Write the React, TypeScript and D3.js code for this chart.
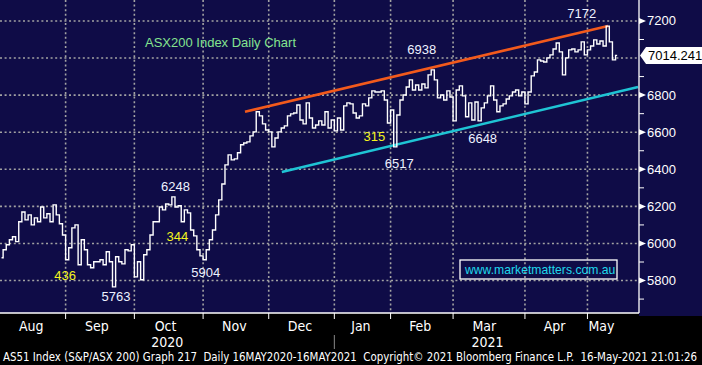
import React from 'react';
import * as d3 from 'd3';

// ASX200 daily closes, 3 Aug 2020 .. 14 May 2021
const closes = [
  5923, 5966, 5993, 6020, 6036, 6010, 6117, 6170, 6127, 6154,
  6100, 6138, 6117, 6197, 6138, 6160, 6117, 6208, 6154, 6106,
  6046, 5912, 5977, 6084, 6100, 5885, 6020, 5966, 5885, 5869,
  5901, 5901, 5912, 5885, 5955, 5901, 5766, 5928, 5901, 5890,
  5966, 5960, 5993, 5820, 5901, 5804, 5939, 5966, 6046, 6117,
  6117, 6197, 6181, 6213, 6208, 6251, 6197, 6203, 6117, 6181,
  6165, 6073, 6041, 5966, 5933, 5912, 5966, 6020, 6073, 6154,
  6235, 6321, 6424, 6478, 6451, 6456, 6489, 6532, 6542, 6548,
  6580, 6602, 6710, 6688, 6645, 6612, 6602, 6521, 6569, 6602,
  6623, 6634, 6688, 6699, 6704, 6747, 6666, 6645, 6758, 6677,
  6623, 6639, 6661, 6639, 6710, 6623, 6666, 6607, 6677, 6612,
  6742, 6758, 6753, 6704, 6677, 6688, 6753, 6742, 6785, 6823,
  6817, 6817, 6823, 6774, 6650, 6720, 6521, 6693, 6774, 6801,
  6844, 6882, 6828, 6855, 6828, 6860, 6839, 6909, 6936, 6882,
  6785, 6801, 6774, 6823, 6790, 6661, 6828, 6850, 6796, 6683,
  6758, 6666, 6763, 6661, 6731, 6758, 6796, 6850, 6774, 6710,
  6742, 6753, 6779, 6796, 6817, 6828, 6796, 6817, 6753, 6817,
  6904, 6925, 6990, 6984, 6979, 7001, 7017, 7049, 7081, 7033,
  6909, 7001, 7044, 7049, 7033, 7044, 7087, 7017, 7044, 7065,
  7098, 7076, 7092, 7065, 7172, 7087, 6990, 7014.241,
];

const monthNames = ['Aug', 'Sep', 'Oct', 'Nov', 'Dec', 'Jan', 'Feb', 'Mar', 'Apr', 'May'];
const monthDays = [21, 22, 22, 21, 21, 18, 20, 23, 20, 10];
const yearLabels = [{ text: '2020', month: 2 }, { text: '2021', month: 7 }];
const yTickValues = [5800, 6000, 6200, 6400, 6600, 6800, 7000, 7200];
const lastPrice = '7014.241';

// trend channel, [day, level]
const upperLine: [number, number][] = [[77.9, 6710], [194.1, 7173]];
const lowerLine: [number, number][] = [[89.7, 6386], [203.7, 6844]];

// turning points and move sizes
const levelNotes = [
  { day: 194, text: '7172' },
  { day: 138, text: '6938' },
  { day: 153, text: '6648' },
  { day: 126, text: '6517' },
  { day: 55, text: '6248' },
  { day: 65, text: '5904' },
  { day: 36, text: '5763' },
];
const moveNotes = [
  { day: 21, text: '436' },
  { day: 55, text: '344' },
  { day: 126, text: '315' },
];

const title = 'ASX200 Index Daily Chart';
const site = 'www.marketmatters.com.au';
const footer = 'AS51 Index (S&P/ASX 200) Graph 217  Daily 16MAY2020-16MAY2021  Copyright\u00A9 2021 Bloomberg Finance L.P.  16-May-2021 21:01:26';

const W = 702;
const H = 365;
const right = 639;
const bottom = 313;
const navy = '#0f0c47';
const grid = '#a3a3a3';
const sans = "'Liberation Sans', Arial, sans-serif";
const narrow = "'Liberation Sans Narrow', 'DejaVu Sans Condensed', 'Arial Narrow', sans-serif";

const noteOffset: Record<string, [number, number]> = {
  '7172': [-26, -13], '6938': [-11, -20], '6648': [3, 18], '6517': [4, 17],
  '6248': [2, -10], '5904': [1, 13], '5763': [2, 10],
  '436': [-2, 16], '344': [4, 40], '315': [-21, -10],
};

export default function App() {
  const x = d3.scaleLinear().domain([-0.5, 204]).range([0, right]);
  const y = d3.scaleLinear().domain([5625, 7313]).range([bottom, 0]);

  const line = d3.line<number>().x((_, i) => x(i)).y((d) => y(d)).curve(d3.curveStep);
  const seg = d3.line<[number, number]>().x((d) => x(d[0])).y((d) => y(d[1]));

  const starts = [0, ...Array.from(d3.cumsum(monthDays))].slice(0, monthDays.length);
  const minor = d3.range(5700, 7300, 200);
  const yLast = y(+lastPrice);

  return (
    <svg width={W} height={H} style={{ position: 'absolute', left: 0, top: 0 }}>
      <rect width={W} height={H} fill="#000" />
      <rect width={W} height={bottom} fill={navy} />
      <rect x={right} width={W - right} height={bottom + 3} fill={navy} />

      {/* grid */}
      <g stroke={grid} strokeWidth={1.6} strokeDasharray="2 2.6">
        {yTickValues.map((v) => (
          <line key={v} x1={0} x2={right} y1={y(v)} y2={y(v)} />
        ))}
        {starts.slice(1).map((s) => (
          <line key={s} x1={x(s - 0.5)} x2={x(s - 0.5)} y1={0} y2={bottom} />
        ))}
      </g>

      <text x={145} y={42} fill="#84e48f" fontFamily={sans} fontSize={13} dominantBaseline="central">
        {title}
      </text>

      {/* channel */}
      <path d={seg(upperLine) ?? ''} stroke="#f25a1c" strokeWidth={2.6} fill="none" />
      <path d={seg(lowerLine) ?? ''} stroke="#1fc4d4" strokeWidth={2.6} fill="none" />

      <path d={line(closes) ?? ''} stroke="#fff" strokeWidth={1.4} fill="none" />

      {/* notes */}
      {levelNotes.map((n) => {
        const [dx, dy] = noteOffset[n.text];
        return (
          <text key={n.text} x={x(n.day) + dx} y={y(closes[n.day]) + dy} fill="#eef2ff"
            fontFamily={sans} fontSize={13} textAnchor="middle" dominantBaseline="central">
            {n.text}
          </text>
        );
      })}
      {moveNotes.map((n) => {
        const [dx, dy] = noteOffset[n.text];
        return (
          <text key={n.text} x={x(n.day) + dx} y={y(closes[n.day]) + dy} fill="#f4f41e"
            fontFamily={sans} fontSize={13} textAnchor="middle" dominantBaseline="central">
            {n.text}
          </text>
        );
      })}

      {/* site box */}
      <rect x={460} y={260} width={157} height={19} fill="none" stroke="#fff" strokeWidth={1.3} />
      <text x={465} y={270} fill="#1fd8ec" fontFamily={sans} fontSize={12.2} dominantBaseline="central">
        {site}
      </text>

      {/* right axis */}
      <line x1={right} x2={right} y1={0} y2={bottom} stroke="#fff" strokeWidth={1.3} />
      {minor.map((v) => (
        <line key={v} x1={right} x2={right + 5} y1={y(v)} y2={y(v)} stroke="#fff" strokeWidth={1} />
      ))}
      {yTickValues.filter((v) => v !== 7000).map((v) => (
        <g key={v}>
          <path d={`M${right},${y(v) - 3}L${right + 7},${y(v)}L${right},${y(v) + 3}Z`} fill="#fff" />
          <text x={647} y={y(v)} fill="#fff" fontFamily={sans} fontSize={13} dominantBaseline="central">
            {v}
          </text>
        </g>
      ))}
      <path d={`M${right + 1},${yLast}L${right + 7},${yLast - 8.5}H${W}V${yLast + 8.5}H${right + 7}Z`} fill="#fff" />
      <text x={648} y={yLast} fill="#000" fontFamily={sans} fontSize={13} dominantBaseline="central">
        {lastPrice}
      </text>

      {/* bottom axis */}
      <line x1={0} x2={right} y1={bottom} y2={bottom} stroke="#fff" strokeWidth={1.3} />
      {starts.slice(1).map((s) => (
        <line key={s} x1={x(s - 0.5)} x2={x(s - 0.5)} y1={bottom} y2={bottom + 6} stroke="#fff" strokeWidth={1} />
      ))}
      {monthNames.map((m, i) => (
        <text key={m} x={x(starts[i] + Math.min(monthDays[i], 21) / 2 - 1)} y={331} fill="#fff"
          fontFamily={narrow} fontSize={14} textAnchor="middle">
          {m}
        </text>
      ))}
      {yearLabels.map((yl) => (
        <text key={yl.text} x={x(starts[yl.month] + monthDays[yl.month] / 2 - 1)} y={347} fill="#fff"
          fontFamily={narrow} fontSize={14} textAnchor="middle">
          {yl.text}
        </text>
      ))}
      <line x1={x(starts[5] - 0.5)} x2={x(starts[5] - 0.5)} y1={335} y2={349} stroke="#888" strokeWidth={1} />
      <text x={3} y={360.5} fill="#fff" fontFamily={narrow} fontSize={11.5} textLength={694}
        lengthAdjust="spacingAndGlyphs" style={{ whiteSpace: 'pre' }}>
        {footer}
      </text>
    </svg>
  );
}
